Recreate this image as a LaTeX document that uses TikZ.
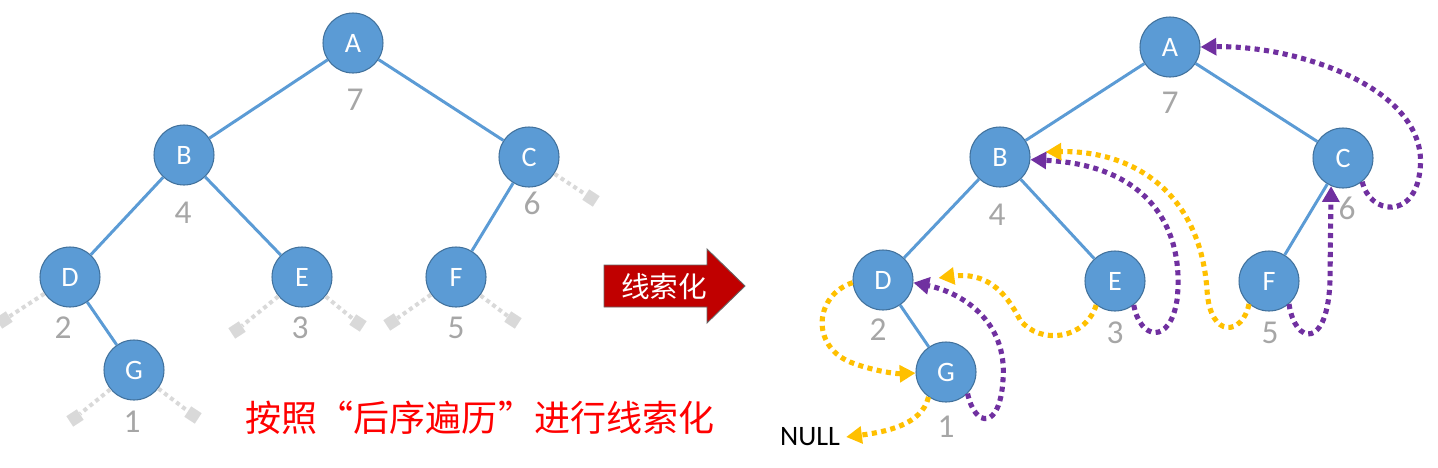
\documentclass[tikz,border=0pt]{standalone}
\usepackage{fontspec}
\setmainfont{Carlito}
\newfontfamily\cjk{Noto Sans CJK SC}
\usetikzlibrary{arrows.meta}

\definecolor{nodeblue}{HTML}{5B9BD5}
\definecolor{nodeedge}{HTML}{41719C}
\definecolor{thrpurple}{HTML}{7030A0}
\definecolor{throrange}{HTML}{FFC000}
\definecolor{numgray}{HTML}{A6A6A6}
\definecolor{stubgray}{HTML}{D9D9D9}
\definecolor{arrred}{HTML}{C00000}

\begin{document}
\begin{tikzpicture}[
  x=0.02cm, y=-0.02cm,
  tnode/.style={
    circle, draw=nodeedge, line width=0.6pt,
    fill=nodeblue, minimum size=1.2cm, inner sep=0pt,
    text=white, font=\fontsize{16}{19}\selectfont
  },
  num/.style={text=numgray, inner sep=0pt, font=\fontsize{19}{22}\selectfont},
  link/.style={draw=nodeblue, line width=1.7pt},
  stub/.style={draw=stubgray, line width=2.3pt, dash pattern=on 2.3pt off 2pt},
  stubend/.style={rectangle, fill=stubgray, minimum size=0.25cm, inner sep=0pt},
  thr/.style={line width=2.9pt, dash pattern=on 2.9pt off 2.5pt,
    -{Triangle[length=9pt,width=9.5pt]}},
  pred/.style={thr, draw=throrange},
  succ/.style={thr, draw=thrpurple}
]
\useasboundingbox (0,0) rectangle (1438,467);

% left tree
\node[tnode] (lA) at (353,43) {A};
\node[tnode] (lB) at (184,155) {B};
\node[tnode] (lC) at (529,157) {C};
\node[tnode] (lD) at (70,277) {D};
\node[tnode] (lE) at (302,277) {E};
\node[tnode] (lF) at (456,277) {F};
\node[tnode] (lG) at (134,370) {G};

\node[num] (lnA) at (355,100) {7};
\node[num] (lnB) at (183,213) {4};
\node[num] (lnC) at (532,203) {6};
\node[num] (lnD) at (63,328) {2};
\node[num] (lnE) at (300,328) {3};
\node[num] (lnF) at (456,328) {5};
\node[num] (lnG) at (132,422) {1};

\draw[link] (lA) -- (lB);
\draw[link] (lA) -- (lC);
\draw[link] (lB) -- (lD);
\draw[link] (lB) -- (lE);
\draw[link] (lC) -- (lF);
\draw[link] (lD) -- (lG);

\node[stubend, rotate=-33] (sCr) at (591,198) {};
\node[stubend, rotate=33] (sDl) at (4,320) {};
\node[stubend, rotate=33] (sEl) at (237,330) {};
\node[stubend, rotate=-33] (sEr) at (358,323) {};
\node[stubend, rotate=33] (sFl) at (392,322) {};
\node[stubend, rotate=-33] (sFr) at (513,320) {};
\node[stubend, rotate=33] (sGl) at (75,418) {};
\node[stubend, rotate=-33] (sGr) at (193,415) {};
\draw[stub] (lC) -- (sCr);
\draw[stub] (lD) -- (sDl);
\draw[stub] (lE) -- (sEl);
\draw[stub] (lE) -- (sEr);
\draw[stub] (lF) -- (sFl);
\draw[stub] (lF) -- (sFr);
\draw[stub] (lG) -- (sGl);
\draw[stub] (lG) -- (sGr);

\node[text=red, font=\cjk\fontsize{20.5}{24}\selectfont] (caption) at (480,418)
  {按照“后序遍历”进行线索化};

% block arrow
\filldraw[fill=arrred, draw=black!60, line width=0.5pt]
  (604,265) -- (707,265) -- (707,249) -- (745,286) -- (707,323) -- (707,307)
  -- (604,307) -- cycle;
\node[text=white, font=\cjk\fontsize{16.3}{19}\selectfont] (arrlbl) at (664,287) {线索化};

% right tree
\node[tnode] (rA) at (1170,47) {A};
\node[tnode] (rB) at (1000,157) {B};
\node[tnode] (rC) at (1343,158) {C};
\node[tnode] (rD) at (883,280) {D};
\node[tnode] (rE) at (1115,281) {E};
\node[tnode] (rF) at (1269,281) {F};
\node[tnode] (rG) at (946,372) {G};

\node[num] (rnA) at (1170,103) {7};
\node[num] (rnB) at (997,215) {4};
\node[num] (rnC) at (1347,208) {6};
\node[num] (rnD) at (878,330) {2};
\node[num] (rnE) at (1115,333) {3};
\node[num] (rnF) at (1270,333) {5};
\node[num] (rnG) at (946,427) {1};

\draw[link] (rA) -- (rB);
\draw[link] (rA) -- (rC);
\draw[link] (rB) -- (rD);
\draw[link] (rB) -- (rE);
\draw[link] (rC) -- (rF);
\draw[link] (rD) -- (rG);

\node[font=\fontsize{16}{19}\selectfont] (null) at (810,437) {NULL};

% threads
\draw[pred] (rG.-125) .. controls (922,425) and (885,432) .. (null.east);
\draw[succ] (rG.-45) .. controls (975,428) and (1000,430) .. (1003,380)
  .. controls (1008,320) and (960,292) .. (rD.-5);
\draw[pred] (rD.185) .. controls (815,295) and (810,345) .. (850,362)
  .. controls (870,370) and (895,374) .. (rG.182);
\draw[pred] (rE.-128) .. controls (1085,340) and (1040,345) .. (1020,320)
  .. controls (1005,290) and (985,272) .. ([shift={(25,-2)}]rD.east);
\draw[succ] (rE.-52) .. controls (1140,340) and (1170,345) .. (1177,300)
  .. controls (1185,230) and (1150,165) .. (rB.-5);
\draw[pred] (rF.-131) .. controls (1243,335) and (1210,340) .. (1207,290)
  .. controls (1200,190) and (1130,150) .. ([shift={(15,-5)}]rB.east);
\draw[succ] (rF.-49) .. controls (1295,345) and (1328,350) .. (1330,280)
  -- (rC.-113);
\draw[succ] (rC.-51) .. controls (1370,215) and (1415,220) .. (1420,170)
  .. controls (1430,90) and (1300,45) .. (rA.east);

\end{tikzpicture}
\end{document}
